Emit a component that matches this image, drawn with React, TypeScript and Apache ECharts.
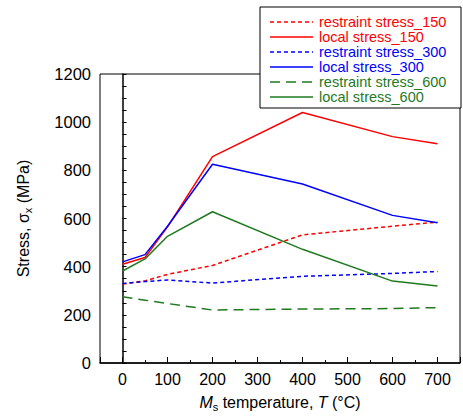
import React, { useEffect, useRef } from "react";
import * as echarts from "echarts";

const temperatures = [0, 50, 100, 200, 400, 600, 700];
const restraint150 = [328, 341, 368, 405, 532, 568, 585];
const local150 = [410, 438, 565, 857, 1040, 940, 910];
const restraint300 = [330, 338, 345, 332, 360, 372, 380];
const local300 = [420, 450, 568, 825, 743, 613, 582];
const restraint600 = [275, 261, 247, 220, 224, 226, 230];
const local600 = [382, 432, 526, 628, 472, 340, 320];

const seriesNames = [
  "restraint stress_150",
  "local stress_150",
  "restraint stress_300",
  "local stress_300",
  "restraint stress_600",
  "local stress_600",
];
const seriesValues = [restraint150, local150, restraint300, local300, restraint600, local600];
const seriesColors = ["#ff0000", "#ff0000", "#0000ff", "#0000ff", "#1f7a1f", "#1f7a1f"];
const seriesDash: (number[] | null)[] = [[4, 3], null, [4, 3], null, [10, 6], null];

const FONT = "'Liberation Sans', Arial, sans-serif";

export default function App() {
  const ref = useRef<HTMLDivElement>(null);
  useEffect(() => {
    if (!ref.current) return;
    const chart = echarts.init(ref.current, null, { renderer: "svg" });

    const boxX = 260;
    const boxY = 7;
    const rowH = 15;
    const legendChildren: any[] = [
      {
        type: "rect",
        shape: { x: boxX, y: boxY, width: 201, height: 101 },
        style: { fill: "#fff", stroke: "#000", lineWidth: 1 },
      },
    ];
    seriesNames.forEach((n, i) => {
      const cy = boxY + 15 + rowH * i;
      legendChildren.push({
        type: "line",
        shape: { x1: boxX + 10, y1: cy, x2: boxX + 53, y2: cy },
        style: {
          stroke: seriesColors[i],
          lineWidth: 1.5,
          lineDash: seriesDash[i] || undefined,
        },
      });
      legendChildren.push({
        type: "text",
        x: boxX + 59,
        y: cy,
        style: {
          text: n,
          fill: seriesColors[i],
          font: `14.5px ${FONT}`,
          verticalAlign: "middle",
          align: "left",
          lineHeight: 15,
        },
      });
    });

    chart.setOption({
      animation: false,
      textStyle: { fontFamily: FONT },
      grid: {
        left: 100,
        right: 2,
        top: 74,
        bottom: 53,
        show: true,
        borderColor: "#000",
        borderWidth: 1,
        backgroundColor: "transparent",
      },
      graphic: [{ type: "group", z: 100, children: legendChildren }],
      xAxis: [
        {
          type: "value",
          min: -50,
          max: 750,
          interval: 50,
          axisLine: { show: true, lineStyle: { color: "#000", width: 1.5 } },
          axisTick: { show: true, inside: true, length: 3, lineStyle: { color: "#000" } },
          axisLabel: {
            color: "#000",
            fontSize: 16,
            margin: 8,
            fontFamily: FONT,
            formatter: (v: number) => (v >= 0 && v <= 700 && v % 100 === 0 ? String(v) : ""),
          },
          splitLine: { show: false },
          name: "{i|M}{sub|s} temperature, {i|T} (°C)",
          nameLocation: "middle",
          nameGap: 30,
          nameTextStyle: {
            color: "#000",
            fontSize: 16,
            fontFamily: FONT,
            rich: {
              i: { fontStyle: "italic", fontSize: 16, color: "#000", fontFamily: FONT },
              sub: { fontSize: 11, color: "#000", padding: [8, 0, 0, 0], fontFamily: FONT },
            },
          },
        },
        {
          type: "value",
          min: -50,
          max: 750,
          splitNumber: 8,
          position: "bottom",
          axisLine: { show: false },
          axisTick: { show: true, inside: true, length: 6, lineStyle: { color: "#000" } },
          axisLabel: { show: false },
          splitLine: { show: false },
        },
      ],
      yAxis: {
        type: "value",
        min: 0,
        max: 1200,
        interval: 200,
        axisLine: { show: true, lineStyle: { color: "#000", width: 1.5 } },
        axisTick: { show: true, inside: true, length: 4, lineStyle: { color: "#000" } },
        minorTick: { show: true, splitNumber: 4, length: 4, lineStyle: { color: "#000" } },
        axisLabel: {
          color: "#000",
          fontSize: 16.5,
          margin: 9,
          fontFamily: FONT,
          formatter: (v: number) => String(v),
        },
        splitLine: { show: false },
        name: "Stress, σ{sub|x} (MPa)",
        nameLocation: "middle",
        nameGap: 67,
        nameTextStyle: {
          color: "#000",
          fontSize: 16,
          fontFamily: FONT,
          rich: {
            sub: { fontSize: 11, color: "#000", padding: [8, 0, 0, 0], fontFamily: FONT },
          },
        },
      },
      series: seriesNames.map((name, i) => ({
        name,
        type: "line",
        xAxisIndex: 0,
        symbol: "none",
        showSymbol: false,
        color: seriesColors[i],
        lineStyle: { color: seriesColors[i], width: 1.5, type: seriesDash[i] || "solid" },
        data: temperatures.map((t, j) => [t, seriesValues[i][j]]),
      })),
    });
    return () => chart.dispose();
  }, []);
  return (
    <div
      ref={ref}
      style={{ position: "absolute", left: 0, top: 0, width: 463, height: 417, background: "#fff" }}
    />
  );
}
